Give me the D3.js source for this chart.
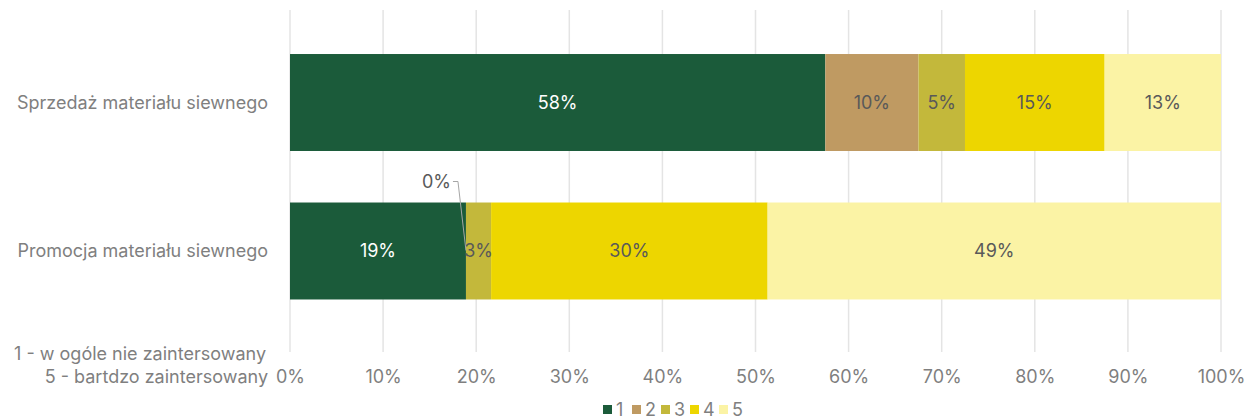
<!DOCTYPE html>
<html><head><meta charset="utf-8">
<script src="https://cdn.jsdelivr.net/npm/d3@7"></script>
<style>body{margin:0;background:#fff}svg{display:block;font-family:Inter,sans-serif}</style>
</head><body>
<svg id="c" width="1257" height="419"></svg>
<script>
const categories = ["Sprzedaż materiału siewnego", "Promocja materiału siewnego"];
const seriesNames = ["1", "2", "3", "4", "5"];
const seriesColors = ["#1B5B3A", "#BF9A62", "#C3B83B", "#EDD600", "#FBF3A5"];
const labelColors = ["#ffffff", "#595959", "#595959", "#595959", "#595959"];
const values1 = [57.5, 18.9];
const values2 = [10, 0];
const values3 = [5, 2.7];
const values4 = [15, 29.7];
const values5 = [12.5, 48.7];
const xTicks = [0, 10, 20, 30, 40, 50, 60, 70, 80, 90, 100];
const axisTitle = ["1 - w ogóle nie zaintersowany", "5 - bartdzo zaintersowany"];

const FS = "18px";
const svg = d3.select("#c");
const x = d3.scaleLinear().domain([0, 100]).range([290, 1221]);
const y = d3.scaleBand().domain(categories).range([2.5, 351]).padding(0.347);
const allVals = [values1, values2, values3, values4, values5];

// gridlines
svg.append("g").selectAll("line").data(xTicks).join("line")
  .attr("x1", d => x(d)).attr("x2", d => x(d)).attr("y1", 10).attr("y2", 352)
  .attr("stroke", "#e4e4e4").attr("stroke-width", 1.5);

// axis
const ax = svg.append("g").attr("transform", "translate(0,352)")
  .call(d3.axisBottom(x).tickValues(xTicks).tickFormat(d => d + "%").tickSize(0));
ax.select(".domain").remove();
ax.selectAll("text").attr("y", 25).attr("dy", "0.35em").attr("fill", "#7f7f7f")
  .style("font-size", FS).style("font-family", "Inter,sans-serif");

// stacked data
const stack = categories.map((c, i) => {
  let acc = 0;
  return allVals.map((s, k) => { const o = {cat: c, k, v: s[i], x0: acc, x1: acc + s[i]}; acc += s[i]; return o; });
});
const flat = stack.flat();

svg.append("g").selectAll("rect").data(flat).join("rect")
  .attr("x", d => x(d.x0)).attr("width", d => x(d.x1) - x(d.x0))
  .attr("y", d => y(d.cat)).attr("height", y.bandwidth())
  .attr("fill", d => seriesColors[d.k]);

// labels
const lab = flat.filter(d => d.v > 0);
svg.append("g").selectAll("text").data(lab).join("text")
  .attr("x", d => x((d.x0 + d.x1) / 2)).attr("y", d => y(d.cat) + y.bandwidth() / 2)
  .attr("dy", "0.35em").attr("text-anchor", "middle")
  .attr("fill", d => labelColors[d.k]).style("font-size", FS)
  .text(d => Math.round(d.v) + "%");

// zero label with leader line
const zeros = flat.filter(d => d.v === 0);
zeros.forEach(d => {
  const xx = x(d.x0);
  const yTop = y(d.cat);
  svg.append("path")
    .attr("d", `M${xx - 13},${yTop - 21} L${xx - 8},${yTop - 21} L${xx},${yTop + 48}`)
    .attr("fill", "none").attr("stroke", "#a6a6a6").attr("stroke-width", 1);
  svg.append("text").attr("x", xx - 15).attr("y", yTop - 21).attr("dy", "0.35em")
    .attr("text-anchor", "end").attr("fill", "#595959").style("font-size", FS)
    .text(Math.round(d.v) + "%");
});

// category labels
svg.append("g").selectAll("text").data(categories).join("text")
  .attr("x", 268).attr("y", d => y(d) + y.bandwidth() / 2).attr("dy", "0.35em")
  .attr("text-anchor", "end").attr("fill", "#7f7f7f").style("font-size", FS)
  .text(d => d);

// axis title
svg.append("g").selectAll("text").data(axisTitle).join("text")
  .attr("x", (d, i) => i === 0 ? 266 : 268).attr("y", (d, i) => 354 + i * 23).attr("dy", "0.35em")
  .attr("text-anchor", "end").attr("fill", "#7f7f7f").style("font-size", FS)
  .text(d => d);

// legend
const lg = svg.append("g").selectAll("g").data(seriesNames).join("g")
  .attr("transform", (d, i) => `translate(${603 + i * 29},405)`);
lg.append("rect").attr("width", 9).attr("height", 9).attr("fill", (d, i) => seriesColors[i]);
lg.append("text").attr("x", 13).attr("y", 4.5).attr("dy", "0.35em").attr("fill", "#7f7f7f")
  .style("font-size", FS).text(d => d);
</script>
</body></html>
